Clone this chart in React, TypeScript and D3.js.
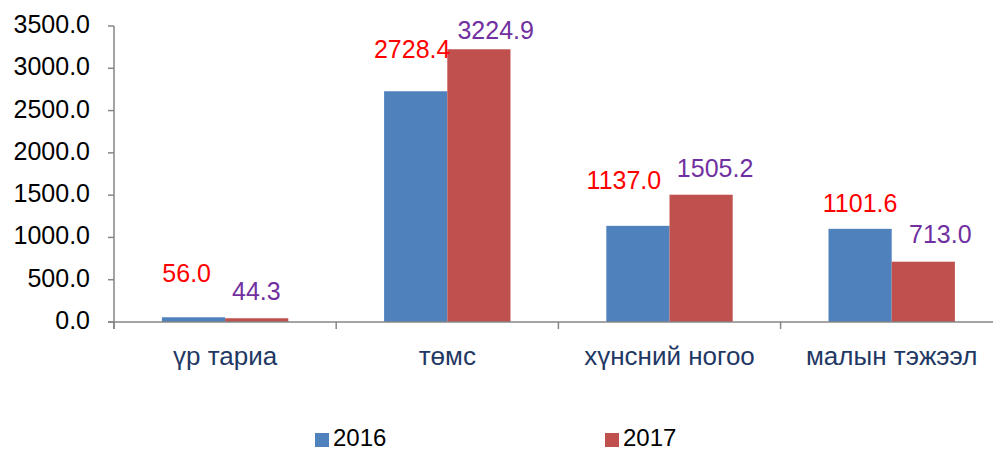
import React from "react";
import * as d3 from "d3";

const categories = ["үр тариа", "төмс", "хүнсний ногоо", "малын тэжээл"];
const seriesNames = ["2016", "2017"];
const values2016 = [56.0, 2728.4, 1137.0, 1101.6];
const values2017 = [44.3, 3224.9, 1505.2, 713.0];
const yTicks = [0, 500, 1000, 1500, 2000, 2500, 3000, 3500];

// label nudges (style), per series
const labelDx = [
  [-6.8, -3.5, -14, 0],
  [-0.3, 16.8, 14, 17],
];
const labelDy = [
  [-35, -33, -36.5, -17],
  [-18.3, -10.3, -18, -18.4],
];

const colors = ["#4F81BD", "#C0504D"];
const labelColors = ["#FF0000", "#7030A0"];
const W = 993;
const H = 452;
const FONT = "'Liberation Sans', Arial, sans-serif";

export default function App() {
  const left = 114;
  const right = 1002.8;
  const top = 26;
  const bottom = 322;
  const y = d3.scaleLinear().domain([0, 3500]).range([bottom, top]);
  const x = d3.scaleBand<string>().domain(categories).range([left, right]).padding(0);
  const bw = x.bandwidth();
  const inner = d3
    .scaleBand<string>()
    .domain(seriesNames)
    .range([0, bw])
    .paddingInner(0)
    .paddingOuter(0.758);
  const series = [values2016, values2017];
  const axisColor = "#868686";

  return (
    <svg
      width={W}
      height={H}
      style={{ position: "absolute", left: 0, top: 0, background: "#fff" }}
      fontFamily={FONT}
    >
      {/* y axis */}
      <line x1={left} x2={left} y1={top} y2={bottom + 7} stroke={axisColor} strokeWidth={1.5} />
      {yTicks.map((t) => (
        <g key={t}>
          <line x1={left - 6} x2={left} y1={y(t)} y2={y(t)} stroke={axisColor} strokeWidth={1.5} />
          <text x={90} y={y(t) + 7} textAnchor="end" fontSize={25} fill="#000">
            {t.toFixed(1)}
          </text>
        </g>
      ))}
      {/* bars */}
      {series.map((vals, si) =>
        vals.map((v, ci) => (
          <rect
            key={`${si}-${ci}`}
            x={(x(categories[ci]) as number) + (inner(seriesNames[si]) as number)}
            y={y(v)}
            width={inner.bandwidth()}
            height={bottom - y(v)}
            fill={colors[si]}
          />
        ))
      )}
      {/* x axis */}
      <line x1={left - 6} x2={right} y1={bottom} y2={bottom} stroke={axisColor} strokeWidth={1.5} />
      {categories.map((c) => (
        <line
          key={c}
          x1={x(c) as number}
          x2={x(c) as number}
          y1={bottom}
          y2={bottom + 7}
          stroke={axisColor}
          strokeWidth={1.5}
        />
      ))}
      {categories.map((c) => (
        <text
          key={c}
          x={(x(c) as number) + bw / 2}
          y={365}
          textAnchor="middle"
          fontSize={26}
          fill="#1F3864"
        >
          {c}
        </text>
      ))}
      {/* value labels */}
      {series.map((vals, si) =>
        vals.map((v, ci) => (
          <text
            key={`l${si}-${ci}`}
            x={(x(categories[ci]) as number) + (inner(seriesNames[si]) as number) + inner.bandwidth() / 2 + labelDx[si][ci]}
            y={y(v) + labelDy[si][ci]}
            textAnchor="middle"
            fontSize={25}
            fill={labelColors[si]}
          >
            {v.toFixed(1)}
          </text>
        ))
      )}
      {/* legend */}
      {seriesNames.map((s, i) => {
        const lx = [315, 605][i];
        return (
          <g key={s}>
            <rect x={lx} y={433} width={14} height={14} fill={colors[i]} />
            <text x={lx + 18} y={446} fontSize={24} fill="#000">
              {s}
            </text>
          </g>
        );
      })}
    </svg>
  );
}
